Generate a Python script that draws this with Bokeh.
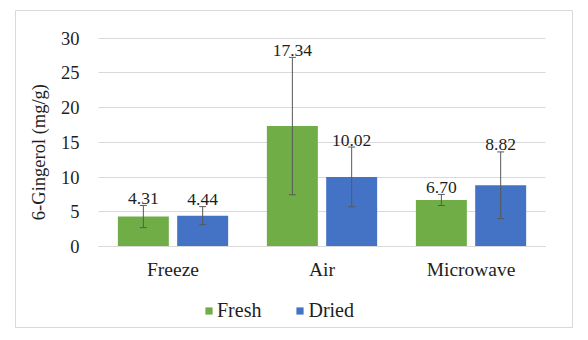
import math
from bokeh.plotting import figure
from bokeh.models import (ColumnDataSource, Range1d, Whisker, TeeHead,
                          Legend, LegendItem, FixedTicker)
from bokeh.transform import dodge
from bokeh.core.properties import value
from bokeh.embed import file_html
from bokeh.resources import INLINE

methods = ["Freeze", "Air", "Microwave"]
fresh = [4.31, 17.34, 6.70]
dried = [4.44, 10.02, 8.82]
fresh_err = [1.6, 9.9, 0.8]
dried_err = [1.3, 4.3, 4.8]
y_ticks = [0, 5, 10, 15, 20, 25, 30]
series_names = ["Fresh", "Dried"]
y_title = "6-Gingerol (mg/g)"

GREEN = "#70AD47"
BLUE = "#4472C4"
GRID = "#D9D9D9"
ERR = "#595959"
TXT = "#1e1e1e"
FONT = "Liberation Serif"

n = len(methods)
xc = [i + 0.5 for i in range(n)]

p = figure(x_range=Range1d(-0.557, n + 0.181), y_range=Range1d(-11.67, 33.99),
           width=588, height=340, output_backend="svg", toolbar_location=None,
           min_border_left=15, min_border_right=16, min_border_top=10, min_border_bottom=13)
p.outline_line_color = GRID
p.outline_line_width = 1
p.background_fill_color = "white"
p.border_fill_color = "white"

src_f = ColumnDataSource(dict(x=xc, val=fresh,
                              upper=[v + e for v, e in zip(fresh, fresh_err)],
                              lower=[v - e for v, e in zip(fresh, fresh_err)],
                              lab=["%.2f" % v for v in fresh]))
src_d = ColumnDataSource(dict(x=xc, val=dried,
                              upper=[v + e for v, e in zip(dried, dried_err)],
                              lower=[v - e for v, e in zip(dried, dried_err)],
                              lab=["%.2f" % v for v in dried]))

# axes (fixed inside the frame)
p.yaxis.fixed_location = 0
p.yaxis.ticker = FixedTicker(ticks=y_ticks)
p.yaxis.bounds = (y_ticks[0], y_ticks[-1])
p.yaxis.axis_line_color = None
p.yaxis.major_tick_line_color = None
p.yaxis.minor_tick_line_color = None
p.yaxis.major_label_standoff = 13
p.yaxis.major_label_text_font = FONT
p.yaxis.major_label_text_font_size = "18.5px"
p.yaxis.major_label_text_color = TXT

p.xaxis.fixed_location = 0
p.xaxis.ticker = FixedTicker(ticks=xc)
p.xaxis.major_label_overrides = {x: m for x, m in zip(xc, methods)}
p.xaxis.bounds = (0, n)
p.xaxis.axis_line_color = GRID
p.xaxis.major_tick_line_color = None
p.xaxis.minor_tick_line_color = None
p.xaxis.major_label_standoff = 7
p.xaxis.major_label_text_font = FONT
p.xaxis.major_label_text_font_size = "19.5px"
p.xaxis.major_label_text_color = TXT

p.xgrid.grid_line_color = None
p.ygrid.grid_line_color = GRID
p.ygrid.grid_line_width = 1
p.ygrid.cross_bounds = (0, n)

off = 0.199
bw = 0.342
rf = p.vbar(x=dodge("x", -off), top="val", width=bw, source=src_f,
            fill_color=GREEN, line_color=None)
rd = p.vbar(x=dodge("x", off), top="val", width=bw, source=src_d,
            fill_color=BLUE, line_color=None)

for src, o in ((src_f, -off), (src_d, off)):
    w = Whisker(base=dodge("x", o), upper="upper", lower="lower",
                source=src, line_color=ERR, line_width=1, level="annotation",
                upper_head=TeeHead(size=7, line_color=ERR, line_width=1),
                lower_head=TeeHead(size=7, line_color=ERR, line_width=1))
    p.add_layout(w)
    p.text(x=dodge("x", o), y="upper", text="lab", source=src,
           text_align="center", text_baseline="alphabetic", y_offset=-7,
           text_font=value(FONT), text_font_size="17.5px", text_color=TXT)

# y title
p.text(x=[-0.40], y=[13.6], text=[y_title], angle=math.pi / 2,
       text_align="center", text_baseline="middle",
       text_font=value(FONT), text_font_size="18.5px", text_color=TXT)

# legend
legend = Legend(items=[LegendItem(label=series_names[0], renderers=[rf]),
                       LegendItem(label=series_names[1], renderers=[rd])],
                orientation="horizontal", location=(189, 5),
                glyph_width=9, glyph_height=9, label_standoff=4, spacing=34,
                padding=0, margin=0, border_line_color=None, background_fill_alpha=0,
                label_text_font=FONT, label_text_font_size="20px", label_text_color=TXT)
p.add_layout(legend)

open("out.html", "w").write(file_html(p, INLINE))
